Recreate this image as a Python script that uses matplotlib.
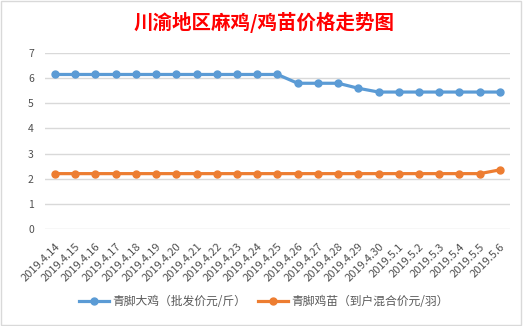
import matplotlib
matplotlib.use("Agg")
import matplotlib.pyplot as plt
from matplotlib.patches import Rectangle

plt.rcParams['font.family'] = ['Noto Sans CJK SC', 'DejaVu Sans']

dates = ["2019.4.14", "2019.4.15", "2019.4.16", "2019.4.17", "2019.4.18", "2019.4.19",
         "2019.4.20", "2019.4.21", "2019.4.22", "2019.4.23", "2019.4.24", "2019.4.25",
         "2019.4.26", "2019.4.27", "2019.4.28", "2019.4.29", "2019.4.30", "2019.5.1",
         "2019.5.2", "2019.5.3", "2019.5.4", "2019.5.5", "2019.5.6"]
chicken = [6.15] * 12 + [5.8, 5.8, 5.8, 5.6, 5.45, 5.45, 5.45, 5.45, 5.45, 5.45, 5.45]
chick = [2.2] * 22 + [2.35]
name_chicken = "青脚大鸡（批发价元/斤）"
name_chick = "青脚鸡苗（到户混合价元/羽）"
title = "川渝地区麻鸡/鸡苗价格走势图"

fig = plt.figure(figsize=(5.28, 3.26), dpi=100)
fig.patch.set_facecolor('white')
fig.add_artist(Rectangle((0.002, 0.003), 0.985, 0.994, transform=fig.transFigure,
                         fill=False, edgecolor='#d9d9d9', linewidth=1))

ax = fig.add_axes([0.085, 0.298, 0.881, 0.539])
x = list(range(len(dates)))
ax.plot(x, chicken, color='#5B9BD5', linewidth=2.3, marker='o', markersize=5, label=name_chicken)
ax.plot(x, chick, color='#ED7D31', linewidth=2.3, marker='o', markersize=5, label=name_chick)

ax.set_xlim(-0.5, len(dates) - 0.5)
ax.set_ylim(0, 7)
ax.set_yticks(range(0, 8))
ax.yaxis.grid(True, color='#d9d9d9', linewidth=1)
ax.set_axisbelow(True)
for s in ax.spines.values():
    s.set_visible(False)
ax.tick_params(axis='both', length=0, labelsize=7.5, colors='#505050')
ax.tick_params(axis='y', pad=8)
ax.tick_params(axis='x', labelsize=8, pad=9)
ax.set_xticks(x)
ax.set_xticklabels(dates, rotation=45, ha='right', rotation_mode='anchor')

fig.text(0.5, 0.93, title, ha='center', va='center', color='#ff0000',
         fontsize=14, fontweight='bold')

fig.legend(loc='center', bbox_to_anchor=(0.5, 0.075), ncol=2, frameon=False,
           fontsize=8.5, handlelength=2.5, columnspacing=1.0, handletextpad=0.3,
           labelcolor='#595959')

fig.savefig('out.png', dpi=100, facecolor='white')
